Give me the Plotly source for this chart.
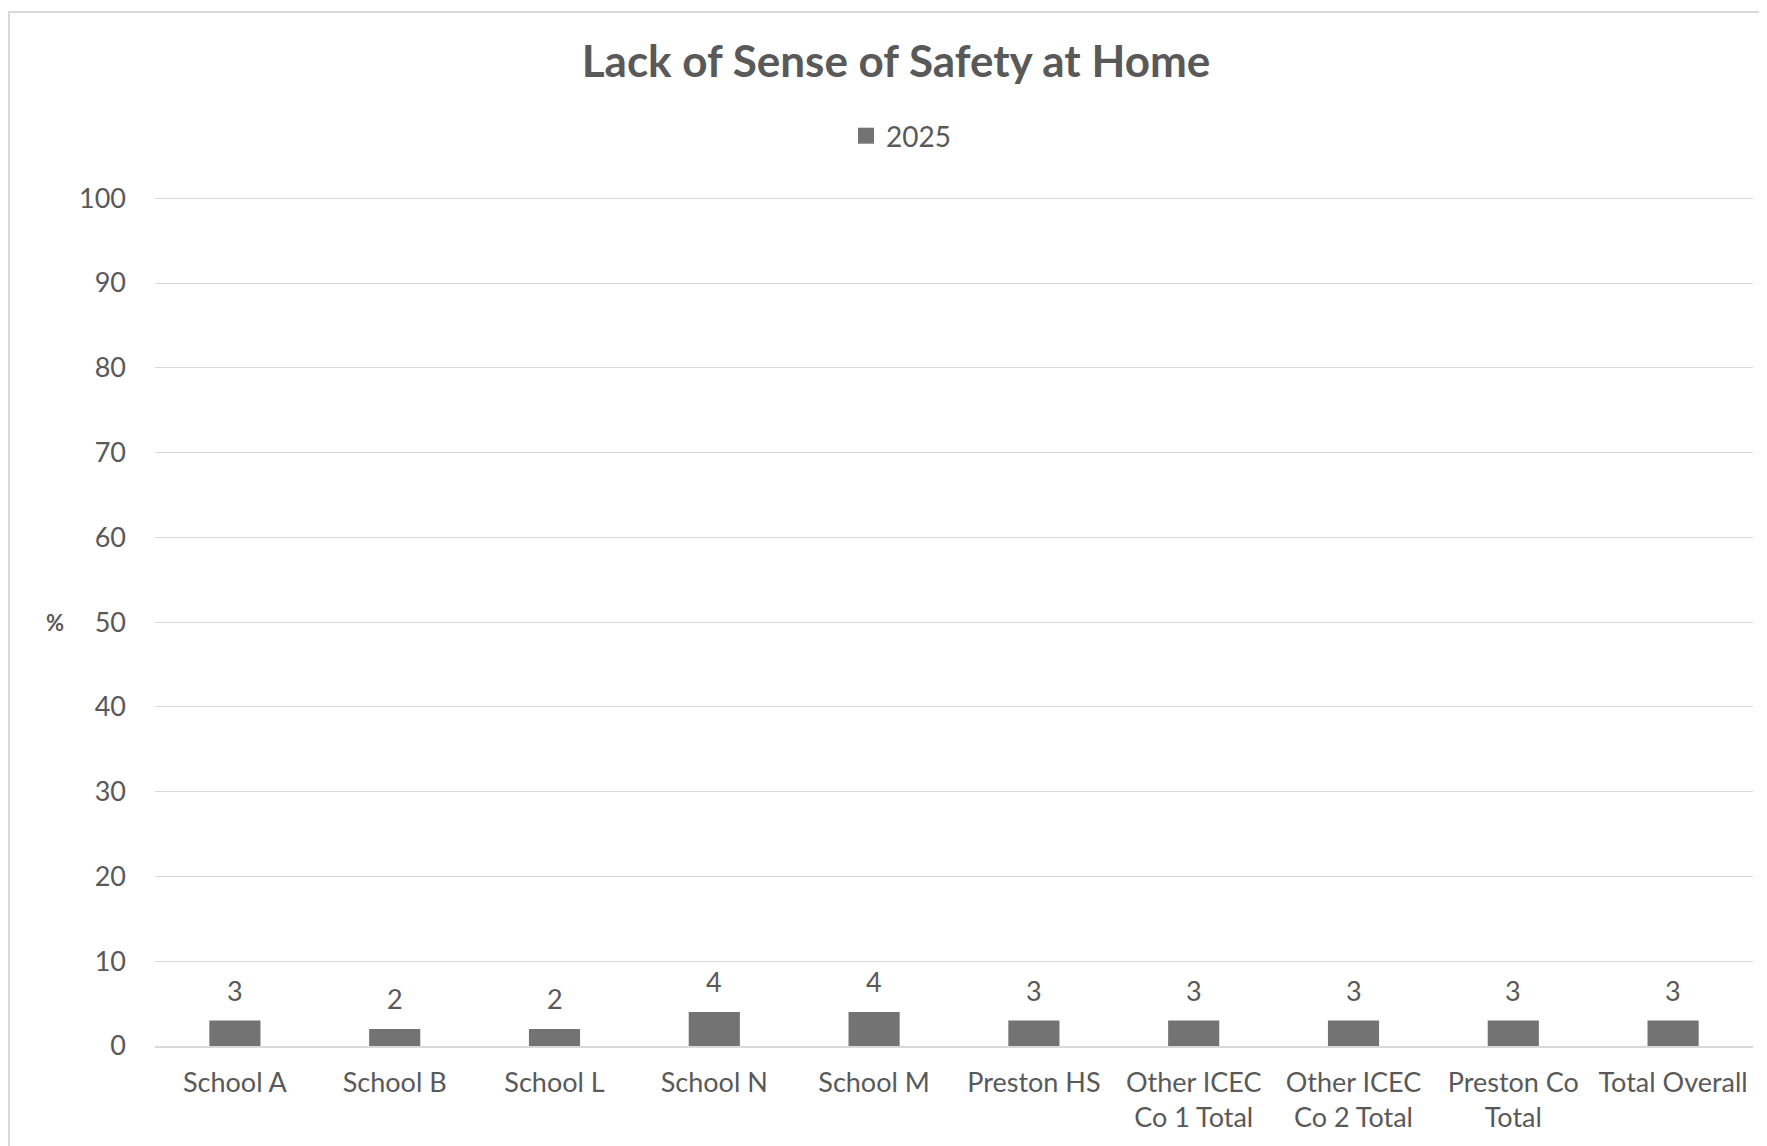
import plotly.graph_objects as go

categories = ["School A", "School B", "School L", "School N", "School M", "Preston HS",
              "Other ICEC<br>Co 1 Total", "Other ICEC<br>Co 2 Total", "Preston Co<br>Total", "Total Overall"]
values_2025 = [3, 2, 2, 4, 4, 3, 3, 3, 3, 3]
series_name = "2025"
chart_title = "Lack of Sense of Safety at Home"
y_ticks = [0, 10, 20, 30, 40, 50, 60, 70, 80, 90, 100]

W, H = 1767, 1146
L, R, T, B = 147, 22, 189, 108
FONT = "Lato, 'Open Sans', sans-serif"
TXT = "#595959"
BAR = "#737373"
pw = W - L - R
ph = H - T - B

fig = go.Figure()
fig.add_trace(go.Bar(
    x=categories, y=values_2025, name=series_name, showlegend=False,
    marker=dict(color=BAR, line=dict(width=0)),
))
# legend entry
fig.add_trace(go.Scatter(
    x=[None], y=[None], mode="markers", name=series_name,
    marker=dict(symbol="square", size=18, color=BAR),
))

for c, v in zip(categories, values_2025):
    fig.add_annotation(x=c, y=v, text=str(v), showarrow=False, yanchor="bottom",
                       yshift=12, font=dict(family=FONT, size=27, color=TXT))

fig.add_annotation(xref="paper", yref="y", x=(47 - L) / pw, y=50, text="<b>%</b>", showarrow=False,
                   xanchor="center", yanchor="middle", font=dict(family=FONT, size=22, color=TXT))

# chart border
fig.add_shape(type="rect", xref="paper", yref="paper",
              x0=(1 - L) / pw, x1=(W + 10 - L) / pw,
              y0=-(B + 20) / ph, y1=1 + (T - 4) / ph,
              line=dict(color="#d9d9d9", width=2), fillcolor="rgba(0,0,0,0)", layer="below")

fig.update_layout(
    width=W, height=H,
    margin=dict(l=L, r=R, t=T, b=B),
    paper_bgcolor="white", plot_bgcolor="white",
    title=dict(text="<b>" + chart_title + "</b>", x=888 / W, xanchor="center", xref="container",
               y=1 - 54 / H, yanchor="middle", yref="container",
               font=dict(family=FONT, size=44, color=TXT)),
    showlegend=True,
    legend=dict(orientation="h", x=(838 - L) / pw, xanchor="left", y=1 + (T - 128) / ph, yanchor="middle",
                font=dict(family=FONT, size=28, color=TXT), itemsizing="trace"),
    bargap=0.68,
    font=dict(family=FONT, color=TXT),
    xaxis=dict(showgrid=False, showline=True, linecolor="#d9d9d9", linewidth=1.5,
               tickfont=dict(family=FONT, size=27, color=TXT), ticks="", ticklabelstandoff=12),
    yaxis=dict(range=[0, 100.15], tickvals=y_ticks, showgrid=True, gridcolor="#d9d9d9", gridwidth=1,
               zeroline=False, showline=False, ticklabelstandoff=28,
               tickfont=dict(family=FONT, size=27, color=TXT)),
)

fig.write_html("out.html")
